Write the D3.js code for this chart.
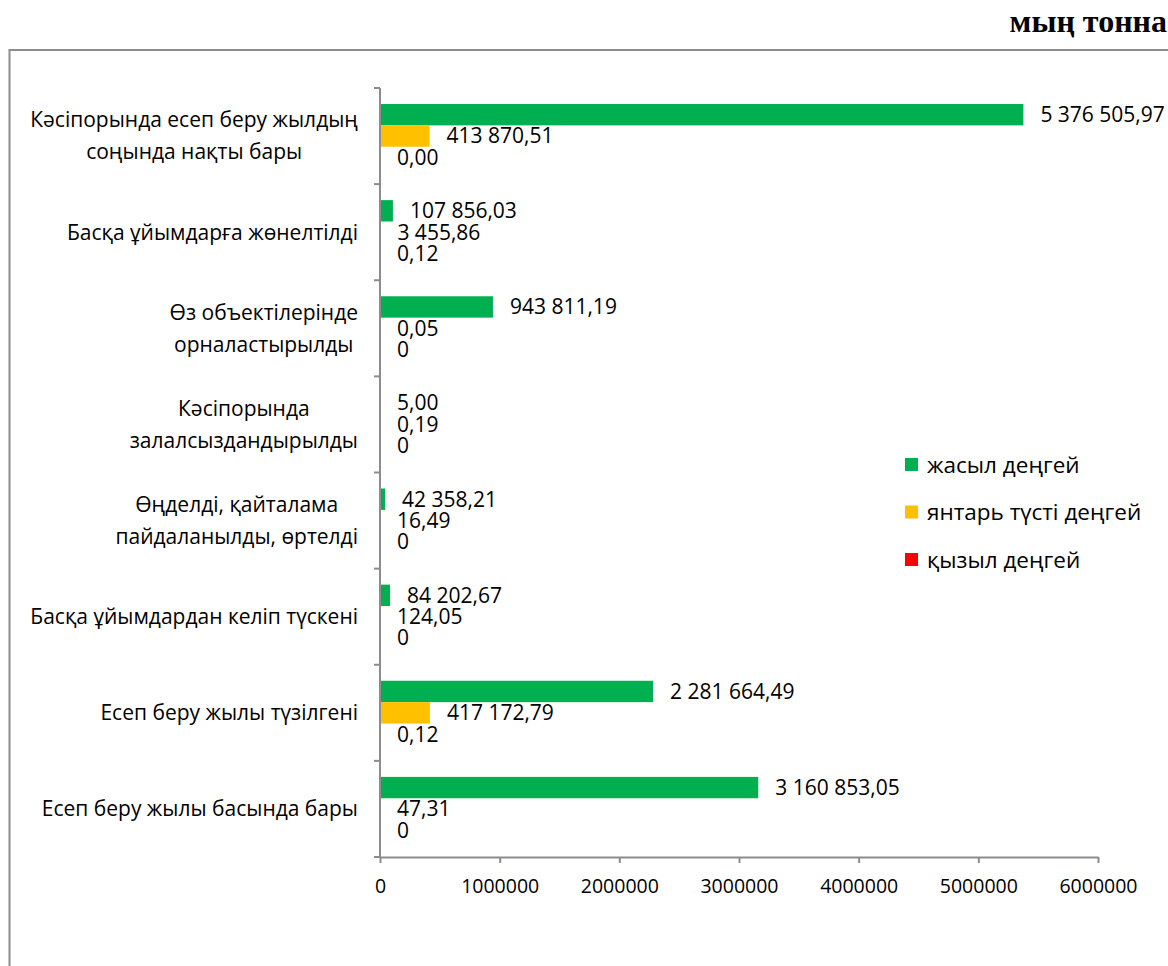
<!DOCTYPE html>
<html>
<head>
<meta charset="utf-8">
<script src="https://cdn.jsdelivr.net/npm/d3@7"></script>
<style>
  body { margin: 0; background: #fff; }
  text { font-family: "Open Sans", sans-serif; }
</style>
</head>
<body>
<div id="chart"></div>
<script>
// categories, top to bottom
var categories = [
  ["Кәсіпорында есеп беру жылдың", "соңында нақты бары"],
  ["Басқа ұйымдарға жөнелтілді"],
  ["Өз объектілерінде", "орналастырылды"],
  ["Кәсіпорында", "залалсыздандырылды"],
  ["Өңделді, қайталама", "пайдаланылды, өртелді"],
  ["Басқа ұйымдардан келіп түскені"],
  ["Есеп беру жылы түзілгені"],
  ["Есеп беру жылы басында бары"]
]
var seriesNames = ["жасыл деңгей", "янтарь түсті деңгей", "қызыл деңгей"]
var seriesColors = ["#00b050", "#ffc000", "#ff0000"]

var greenValues = [5376505.97, 107856.03, 943811.19, 5.00, 42358.21, 84202.67, 2281664.49, 3160853.05]
var amberValues = [413870.51, 3455.86, 0.05, 0.19, 16.49, 124.05, 417172.79, 47.31]
var redValues = [0.00, 0.12, 0, 0, 0, 0, 0.12, 0]

var greenLabels = ["5 376 505,97", "107 856,03", "943 811,19", "5,00", "42 358,21", "84 202,67", "2 281 664,49", "3 160 853,05"]
var amberLabels = ["413 870,51", "3 455,86", "0,05", "0,19", "16,49", "124,05", "417 172,79", "47,31"]
var redLabels = ["0,00", "0,12", "0", "0", "0", "0", "0,12", "0"]

var xTicks = [0, 1000000, 2000000, 3000000, 4000000, 5000000, 6000000]

var width = 1168
var height = 966

var svg = d3.select("#chart")
  .append("svg")
  .attr("width", width)
  .attr("height", height)

// outer frame
svg.append("rect")
  .attr("x", 9.5)
  .attr("y", 50)
  .attr("width", width + 20)
  .attr("height", height)
  .attr("fill", "none")
  .attr("stroke", "#8c8c8c")
  .attr("stroke-width", 2)

// unit title
svg.append("text")
  .attr("x", 1167)
  .attr("y", 32)
  .attr("text-anchor", "end")
  .style("font-family", "'Liberation Serif', 'DejaVu Serif', serif")
  .style("font-weight", "bold")
  .style("font-size", "32px")
  .text("мың тонна")

var catIdx = d3.range(categories.length)

var x = d3.scaleLinear()
  .domain([0, 6000000])
  .range([380, 1098])

var y0 = d3.scaleBand()
  .domain(catIdx)
  .range([88, 857])
  .padding(0)

var y1 = d3.scaleBand()
  .domain([0, 1, 2])
  .range([0, y0.bandwidth()])
  .paddingInner(0)
  .paddingOuter(0.75)

var series = [
  { values: greenValues, labels: greenLabels },
  { values: amberValues, labels: amberLabels },
  { values: redValues, labels: redLabels }
]

var rows = []
catIdx.forEach(function (c) {
  series.forEach(function (s, si) {
    rows.push({ c: c, s: si, v: s.values[c], label: s.labels[c] })
  })
})

// bars
svg.append("g")
  .selectAll("rect")
  .data(rows)
  .enter()
  .append("rect")
  .attr("x", x(0))
  .attr("y", function (d) { return y0(d.c) + y1(d.s) })
  .attr("width", function (d) { return x(d.v) - x(0) })
  .attr("height", y1.bandwidth())
  .attr("fill", function (d) { return seriesColors[d.s] })

// value labels
svg.append("g")
  .selectAll("text")
  .data(rows)
  .enter()
  .append("text")
  .attr("x", function (d) { return x(d.v) + 17 })
  .attr("y", function (d) { return y0(d.c) + y1(d.s) + y1.bandwidth() / 2 })
  .attr("dy", "0.35em")
  .style("font-size", "21px")
  .attr("fill", "#000")
  .text(function (d) { return d.label })

// x axis
var xAxis = svg.append("g")
  .attr("transform", "translate(0,857)")
  .call(d3.axisBottom(x)
    .tickValues(xTicks)
    .tickFormat(d3.format("d"))
    .tickSize(6)
    .tickSizeOuter(0)
    .tickPadding(16))
xAxis.select(".domain").attr("stroke", "#8c8c8c").attr("stroke-width", 2)
xAxis.selectAll(".tick line").attr("stroke", "#8c8c8c").attr("stroke-width", 2)
xAxis.selectAll(".tick text")
  .style("font-family", "'Open Sans', sans-serif")
  .style("font-size", "19.5px")
  .attr("fill", "#000")

// y axis line and boundary ticks
var yAxis = svg.append("g")
yAxis.append("line")
  .attr("x1", x(0)).attr("x2", x(0))
  .attr("y1", y0.range()[0]).attr("y2", y0.range()[1])
  .attr("stroke", "#8c8c8c")
  .attr("stroke-width", 2)
yAxis.selectAll(".ytick")
  .data(catIdx.map(function (c) { return y0(c) }).concat([y0.range()[1]]))
  .enter()
  .append("line")
  .attr("class", "ytick")
  .attr("x1", x(0) - 6).attr("x2", x(0))
  .attr("y1", function (d) { return d }).attr("y2", function (d) { return d })
  .attr("stroke", "#8c8c8c")
  .attr("stroke-width", 2)

// category labels
var catLabels = svg.append("g")
  .selectAll("text")
  .data(catIdx)
  .enter()
  .append("text")
  .style("font-size", "21px")
  .attr("fill", "#000")
  .attr("text-anchor", "middle")

catLabels.each(function (c) {
  var t = d3.select(this)
  var lines = categories[c]
  var cy = y0(c) + y0.bandwidth() / 2
  var lh = 32
  lines.forEach(function (line, i) {
    t.append("tspan")
      .attr("y", cy + (i - (lines.length - 1) / 2) * lh)
      .attr("dy", "0.35em")
      .text(line)
  })
  var maxW = d3.max(t.selectAll("tspan").nodes(), function (n) { return n.getComputedTextLength() })
  t.selectAll("tspan").attr("x", 358 - maxW / 2)
})

// legend
var legend = svg.append("g")
  .selectAll("g")
  .data(seriesNames)
  .enter()
  .append("g")
  .attr("transform", function (d, i) { return "translate(905," + (465 + i * 47.5) + ")" })

legend.append("rect")
  .attr("x", 0)
  .attr("y", -7)
  .attr("width", 13)
  .attr("height", 13)
  .attr("fill", function (d, i) { return seriesColors[i] })

legend.append("text")
  .attr("x", 22)
  .attr("y", 0)
  .attr("dy", "0.35em")
  .style("font-size", "22.5px")
  .attr("fill", "#000")
  .text(function (d) { return d })
</script>
</body>
</html>
